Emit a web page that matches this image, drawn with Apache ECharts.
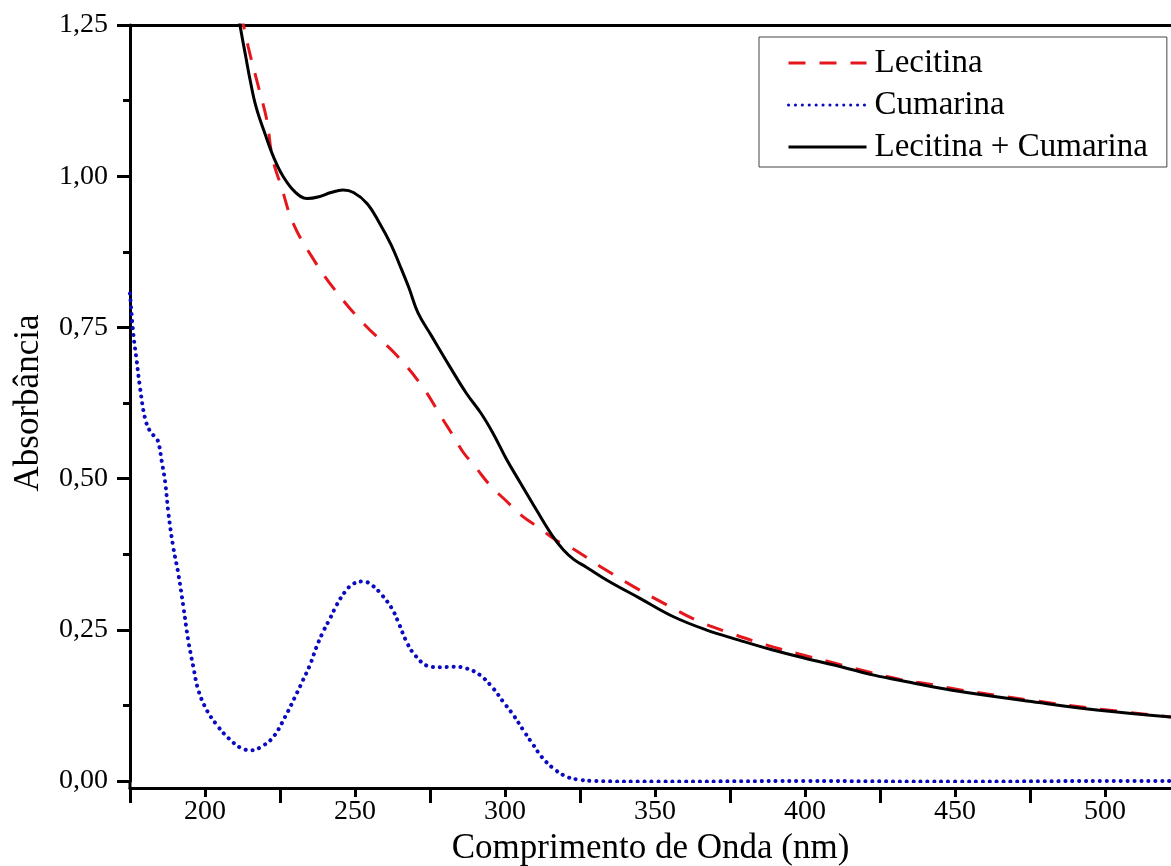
<!DOCTYPE html>
<html>
<head>
<meta charset="utf-8">
<title>Absorbância</title>
<script src="https://cdn.jsdelivr.net/npm/echarts@6/dist/echarts.min.js"></script>
<style>
  html, body { margin: 0; padding: 0; background: #fff; }
  #chart { width: 1171px; height: 866px; }
</style>
</head>
<body>
<div id="chart"></div>
<script>
// valores (nm, absorbância)
const lecitinaNm = [212, 214.4, 217.8, 220.6, 222.5, 225.6, 229.4, 235.6, 243.3, 253.3, 263.5, 272.5, 279, 282.2, 286, 290, 295, 300, 306, 311, 317, 322, 332, 343, 354, 365, 376, 387, 398, 409, 420.6, 431.7, 442.8, 450, 476, 498, 522]
const lecitinaAbs = [1.27, 1.214, 1.148, 1.093, 1.03, 0.98, 0.922, 0.867, 0.812, 0.754, 0.706, 0.652, 0.600, 0.575, 0.544, 0.520, 0.489, 0.465, 0.437, 0.420, 0.398, 0.386, 0.354, 0.321, 0.291, 0.263, 0.243, 0.225, 0.210, 0.196, 0.181, 0.168, 0.159, 0.152, 0.133, 0.119, 0.106]

const cumarinaNm = [175, 176.1, 177.2, 178.3, 180, 181.7, 183.3, 184.4, 185.6, 186.7, 187.8, 189.4, 191.1, 192.8, 194.4, 196.1, 197.8, 200.6, 203.9, 207.8, 212.2, 215.6, 218.9, 222.8, 226.7, 230, 232.5, 235, 237.2, 239.4, 241.7, 243.9, 246.7, 249.4, 252.8, 255.6, 258.9, 262.2, 264.4, 267.2, 270, 274.4, 278.3, 282.8, 287.2, 291.7, 296.1, 299.4, 302.8, 306.1, 309.4, 312.2, 316.1, 320.6, 325, 330, 350, 400, 450, 500, 522]
const cumarinaAbs = [0.806, 0.740, 0.696, 0.652, 0.600, 0.578, 0.569, 0.561, 0.528, 0.495, 0.443, 0.387, 0.343, 0.288, 0.233, 0.189, 0.150, 0.117, 0.093, 0.071, 0.054, 0.051, 0.057, 0.073, 0.106, 0.139, 0.165, 0.192, 0.222, 0.247, 0.269, 0.291, 0.313, 0.326, 0.330, 0.324, 0.308, 0.286, 0.263, 0.230, 0.208, 0.190, 0.188, 0.189, 0.186, 0.175, 0.153, 0.131, 0.109, 0.084, 0.060, 0.040, 0.021, 0.007, 0.002, 0.000, -0.001, 0.000, -0.001, 0.000, 0.000]

const misturaNm = [211, 212, 213.5, 215, 217, 220, 223, 226, 230, 234, 238, 242, 246, 249.5, 254, 258, 262, 265, 268, 271, 275.5, 281.5, 287, 292, 296, 300.5, 305, 310.5, 316, 319.5, 323, 327, 334, 345, 356, 367, 378, 389, 400, 412, 423, 434, 449, 476, 498, 522]
const misturaAbs = [1.27, 1.24, 1.20, 1.16, 1.115, 1.07, 1.03, 1.00, 0.974, 0.963, 0.966, 0.973, 0.977, 0.973, 0.955, 0.924, 0.887, 0.852, 0.815, 0.774, 0.736, 0.686, 0.642, 0.608, 0.575, 0.532, 0.494, 0.448, 0.404, 0.382, 0.366, 0.354, 0.332, 0.302, 0.272, 0.250, 0.233, 0.217, 0.203, 0.189, 0.175, 0.164, 0.150, 0.131, 0.117, 0.106]

const xTicksMajor = [200, 250, 300, 350, 400, 450, 500]
const xTicksMinor = [175, 225, 275, 325, 375, 425, 475]

const fonte = "'Liberation Serif', 'Times New Roman', serif"
const xMin = 175
const xMax = 522

const pares = (xs, ys) => xs.map((x, i) => [x, ys[i]])

const chart = echarts.init(document.getElementById('chart'))

let _option = {
  animation: false,
  backgroundColor: '#fff',
  grid: {
    left: 130,
    right: 0,
    top: 25,
    bottom: 85,
    outerBoundsMode: 'none'
  },
  legend: {
    orient: 'vertical',
    left: 759,
    top: 37,
    padding: [9, 19, 3, 28],
    itemWidth: 78,
    itemHeight: 14,
    itemGap: 8,
    borderColor: '#444',
    borderWidth: 1,
    // só a linha, sem o círculo
    itemStyle: { opacity: 0 },
    lineStyle: { width: 3 },
    textStyle: {
      fontFamily: fonte,
      fontSize: 33,
      lineHeight: 34,
      color: '#000',
      padding: [0, 0, 0, 3]
    },
    data: ['Lecitina', 'Cumarina', 'Lecitina + Cumarina']
  },
  xAxis: [
    {
      // eixo principal: linha, ticks menores e rótulos
      type: 'value',
      position: 'bottom',
      offset: 7,
      min: xMin,
      max: xMax,
      name: 'Comprimento de Onda (nm)',
      nameLocation: 'middle',
      nameGap: 36,
      nameTextStyle: { fontFamily: fonte, fontSize: 35, color: '#000' },
      axisLine: { onZero: false, lineStyle: { color: '#000', width: 3 } },
      axisTick: { customValues: xTicksMinor, length: 15, lineStyle: { color: '#000', width: 3 } },
      axisLabel: {
        customValues: xTicksMajor,
        fontFamily: fonte,
        fontSize: 28,
        color: '#000',
        margin: 10
      },
      splitLine: { show: false }
    },
    {
      // ticks maiores (mais curtos)
      type: 'value',
      position: 'bottom',
      offset: 7,
      min: xMin,
      max: xMax,
      axisLine: { show: false, onZero: false },
      axisTick: { customValues: xTicksMajor, length: 9, lineStyle: { color: '#000', width: 3 } },
      axisLabel: { show: false },
      splitLine: { show: false }
    },
    {
      // borda superior
      type: 'value',
      position: 'top',
      min: xMin,
      max: xMax,
      axisLine: { onZero: false, lineStyle: { color: '#000', width: 3 } },
      axisTick: { show: false },
      axisLabel: { show: false },
      splitLine: { show: false }
    }
  ],
  yAxis: {
    type: 'value',
    min: 0,
    max: 1.25,
    interval: 0.25,
    name: 'Absorbância',
    nameLocation: 'middle',
    nameGap: 84,
    nameTextStyle: { fontFamily: fonte, fontSize: 35, color: '#000' },
    axisLine: { show: true, onZero: false, lineStyle: { color: '#000', width: 3 } },
    axisTick: { show: true, length: 13, lineStyle: { color: '#000', width: 3 } },
    minorTick: { show: true, splitNumber: 2, length: 7, lineStyle: { color: '#000', width: 3 } },
    axisLabel: {
      fontFamily: fonte,
      fontSize: 28,
      color: '#000',
      margin: 22,
      formatter: v => v.toFixed(2).replace('.', ',')
    },
    splitLine: { show: false },
    minorSplitLine: { show: false }
  },
  graphic: [
    {
      // prolonga o eixo y até o eixo x deslocado
      type: 'line',
      shape: { x1: 130, y1: 780, x2: 130, y2: 789 },
      style: { stroke: '#000', lineWidth: 3 }
    }
  ],
  series: [
    {
      name: 'Lecitina',
      type: 'line',
      symbol: 'none',
      smooth: 0.4,
      color: '#e5161c',
      lineStyle: { width: 3, type: [17, 14], color: '#e5161c' },
      data: pares(lecitinaNm, lecitinaAbs)
    },
    {
      name: 'Cumarina',
      type: 'line',
      symbol: 'none',
      smooth: 0.4,
      color: '#0a0ac0',
      lineStyle: { width: 4, type: [0.1, 6.8], cap: 'round', color: '#0a0ac0' },
      data: pares(cumarinaNm, cumarinaAbs)
    },
    {
      name: 'Lecitina + Cumarina',
      type: 'line',
      symbol: 'none',
      smooth: 0.4,
      color: '#000',
      lineStyle: { width: 3, color: '#000' },
      data: pares(misturaNm, misturaAbs)
    }
  ]
}

chart.setOption(_option)
</script>
</body>
</html>
